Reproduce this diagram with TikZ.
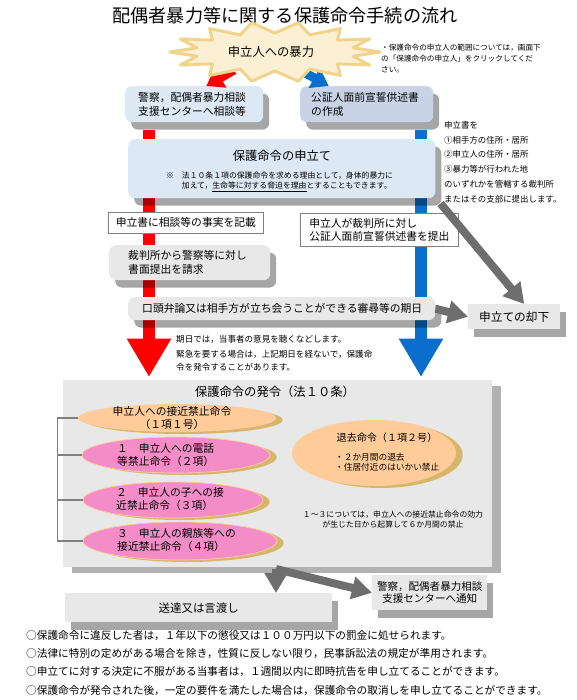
\documentclass[tikz,border=0pt]{standalone}
\usepackage{fontspec}
\setmainfont{Noto Sans CJK JP}
\usetikzlibrary{arrows.meta,positioning,calc,shapes.geometric,shadows}
\definecolor{skyfill}{HTML}{DCE8F4}
\definecolor{slatefill}{HTML}{C8D4E6}
\definecolor{granite}{HTML}{E8E8E8}
\definecolor{rimgray}{HTML}{808080}
\definecolor{arrowgray}{HTML}{6E6E6E}
\definecolor{barred}{HTML}{FF0000}
\definecolor{barblue}{HTML}{0A6ECC}
\definecolor{peach}{HTML}{FFCC99}
\definecolor{rose}{HTML}{F48CC8}
\definecolor{ovalgold}{HTML}{D6B66A}
\definecolor{burstfill}{HTML}{FCF0D4}
\definecolor{burstrim}{HTML}{F0D48C}

\begin{document}
\begin{tikzpicture}[
  x=0.03cm, y=-0.03cm,
  every node/.style = {inner sep=0pt},
  titletext/.style = {font=\fontsize{15.5}{18}\selectfont},
  bodytext/.style = {font=\fontsize{9.2}{11.9}\selectfont},
  headtext/.style = {font=\fontsize{10.5}{12}\selectfont},
  ovaltext/.style = {font=\fontsize{9.2}{10.5}\selectfont, align=left},
  notetext/.style = {font=\fontsize{9.1}{11}\selectfont},
  panelshadow/.style = {drop shadow={shadow xshift=0.18cm, shadow yshift=-0.22cm, fill=black, opacity=0.35}},
  roundpanel/.style = {rounded corners=0.2cm, anchor=north west, align=left, inner xsep=0.39cm, bodytext, panelshadow},
  flatpanel/.style = {anchor=north west, align=center, fill=granite, bodytext, panelshadow},
  bigpanel/.style = {anchor=north west, fill=granite, drop shadow={shadow xshift=0.27cm, shadow yshift=-0.18cm, fill=black, opacity=0.3}},
  whitebox/.style = {anchor=north west, draw=rimgray, fill=white, line width=0.6pt, bodytext},
  oval/.style = {ellipse, drop shadow={shadow xshift=0.2cm, shadow yshift=-0.06cm, fill=ovalgold, opacity=1}},
  peachoval/.style = {oval, fill=peach},
  roseoval/.style = {oval, fill=rose, draw=peach, line width=0.6pt},
  bar/.style = {line width=0.36cm, -{Triangle[width=1.25cm,length=1.15cm]}},
  burstarrow/.style = {line width=0.27cm, -{Triangle[width=0.66cm,length=0.5cm]}},
  grayarrow/.style = {arrowgray, line width=0.24cm, -{Triangle[width=0.66cm,length=0.6cm]}},
  bracket/.style = {rimgray, line width=0.9pt},
  burst/.style = {fill=burstfill, draw=burstrim, line width=0.09cm, line join=round}
]
  \useasboundingbox (0,0) rectangle (576,700);
  % 見出し
  \node[titletext] (title) at (285,16) {配偶者暴力等に関する保護命令手続の流れ};
  % 相談・供述書
  \node[roundpanel, fill=skyfill, text width=3.36cm, minimum height=1.08cm] (consult) at (125,86) {警察，配偶者暴力相談\\支援センターへ相談等};
  \node[roundpanel, fill=slatefill, text width=3.33cm, inner xsep=0.33cm, minimum height=1.08cm] (affidavit) at (300,86) {公証人面前宣誓供述書\\の作成};
  \coordinate (burstleft) at (234,70);
  \coordinate (burstright) at (300,70);
  \draw[burstarrow, barred] (burstleft) -- ($(consult.north)+(12,0)$);
  \draw[burstarrow, barblue] (burstright) -- ($(affidavit.north)+(-38,0)$);
  % 暴力
  \draw[burst] plot[samples at={0,...,27}, variable=\k]
    ({275+(iseven(\k)?105:80)*cos(\k*360/28)}, {52+(iseven(\k)?30:19)*sin(\k*360/28)}) -- cycle;
  \node[headtext] (violence) at (271,52) {申立人への暴力};
  \node[font=\fontsize{6.5}{9.4}\selectfont, anchor=west, align=left] (rangenote) at (381,59)
    {・保護命令の申立人の範囲については，画面下\\の「保護命令の申立人」をクリックしてくだ\\さい。};
  % 赤・青の流れ
  \coordinate (redtip) at (149,377);
  \coordinate (bluetip) at (421,377);
  \draw[bar, barred] ($(consult.south -| redtip)+(0,8)$) -- (redtip);
  \draw[bar, barblue] ($(affidavit.south -| bluetip)+(0,8)$) -- (bluetip);
  % 申立て
  \node[roundpanel, fill=skyfill, minimum width=9.21cm, minimum height=1.77cm] (apply) at (128,139) {};
  \node[headtext] (applytitle) at (282,156) {保護命令の申立て};
  \node[font=\fontsize{6.7}{8.5}\selectfont, anchor=west, align=left] (applynote) at (166,182)
    {※　法１０条１項の保護命令を求める理由として，身体的暴力に\\\phantom{※　}加えて，\underline{生命等に対する脅迫を理由}とすることもできます。};
  \node[font=\fontsize{7.2}{12.6}\selectfont, anchor=west, align=left] (filing) at (444,162)
    {申立書を\\①相手方の住所・居所\\②申立人の住所・居所\\③暴力等が行われた地\\のいずれかを管轄する裁判所\\またはその支部に提出します。};
  \node[whitebox, minimum width=4.65cm, minimum height=0.63cm, align=center] (record) at (108,212) {申立書に相談等の事実を記載};
  \node[whitebox, text width=4.2cm, inner xsep=0.27cm, minimum height=0.99cm, align=left, font=\fontsize{9.2}{11}\selectfont] (submit) at (300,213) {申立人が裁判所に対し\\公証人面前宣誓供述書を提出};
  \node[roundpanel, fill=granite, text width=3.69cm, inner xsep=0.57cm, minimum height=1.05cm] (request) at (109,245) {裁判所から警察等に対し\\書面提出を請求};
  \node[roundpanel, fill=granite, text width=8.37cm, inner xsep=0.42cm, minimum height=0.69cm] (hearing) at (128,297) {口頭弁論又は相手方が立ち会うことができる審尋等の期日};
  \node[flatpanel, minimum width=2.76cm, minimum height=0.75cm, font=\fontsize{10}{12}\selectfont] (reject) at (468,304) {申立ての却下};
  \draw[grayarrow] ($(apply.south east)+(5,5)$) -- ($(reject.north)+(10,0)$);
  \draw[grayarrow] (hearing.east) -- (reject.west);
  \node[font=\fontsize{7.3}{11}\selectfont, anchor=west, align=left] (hearingnote) at (176,353)
    {期日では，当事者の意見を聴くなどします。\\[2pt]緊急を要する場合は，上記期日を経ないで，保護命\\令を発令することがあります。};
  % 発令
  \node[bigpanel, minimum width=12.87cm, minimum height=5.61cm] (issue) at (63,380) {};
  \node[headtext] (issuetitle) at (275,392) {保護命令の発令（法１０条）};
  \node[peachoval, minimum width=5.94cm, minimum height=0.84cm] (near) at (177,418) {};
  \node[roseoval, minimum width=5.64cm, minimum height=1.08cm] (phone) at (176,455) {};
  \node[roseoval, minimum width=5.4cm, minimum height=1.08cm] (child) at (173,500) {};
  \node[roseoval, minimum width=5.82cm, minimum height=1.14cm] (kin) at (180,541) {};
  \node[ovaltext, align=center] (neartext) at (172,418) {申立人への接近禁止命令\\（１項１号）};
  \node[ovaltext, anchor=west] (phonetext) at (117,455) {１　申立人への電話\\等禁止命令（２項）};
  \node[ovaltext, anchor=west] (childtext) at (116,499) {２　申立人の子への接\\近禁止命令（３項）};
  \node[ovaltext, anchor=west] (kintext) at (117,540) {３　申立人の親族等への\\接近禁止命令（４項）};
  \draw[bracket] (near.west) -| ($(kin.west)+(-25,0)$) -- (kin.west);
  \draw[bracket] (phone.west) -- ++(-25,0);
  \draw[bracket] (child.west) -- ++(-25,0);
  \node[peachoval, minimum width=4.92cm, minimum height=1.98cm] (evict) at (374,453) {};
  \node[font=\fontsize{8.6}{10}\selectfont] (evicttitle) at (387,438) {退去命令（１項２号）};
  \node[font=\fontsize{7.4}{8.5}\selectfont, anchor=west, align=left] (evictlist) at (335,462) {・２か月間の退去\\・住居付近のはいかい禁止};
  \node[font=\fontsize{6.7}{8.5}\selectfont, align=center] (spannote) at (393,520)
    {１～３については，申立人への接近禁止命令の効力\\が生じた日から起算して６か月間の禁止};
  % 送達・通知
  \node[flatpanel, minimum width=8.01cm, minimum height=0.87cm, font=\fontsize{9.8}{12}\selectfont] (serve) at (65,593) {送達又は言渡し};
  \node[flatpanel, minimum width=3.45cm, minimum height=1.05cm, font=\fontsize{9}{10.2}\selectfont] (notify) at (372,575) {警察，配偶者暴力相談\\支援センターへ通知};
  \coordinate (fork) at (276,569);
  \draw[grayarrow] (fork) -- (fork |- serve.north);
  \draw[grayarrow] (fork) -- (notify.west);
  % 注記
  \foreach \y/\txt in {636/{○保護命令に違反した者は，１年以下の懲役又は１００万円以下の罰金に処せられます。},
                       654/{○法律に特別の定めがある場合を除き，性質に反しない限り，民事訴訟法の規定が準用されます。},
                       672/{○申立てに対する決定に不服がある当事者は，１週間以内に即時抗告を申し立てることができます。},
                       691/{○保護命令が発令された後，一定の要件を満たした場合は，保護命令の取消しを申し立てることができます。}}
    \node[notetext, anchor=west] (note\y) at (26,\y) {\txt};
\end{tikzpicture}
\end{document}
